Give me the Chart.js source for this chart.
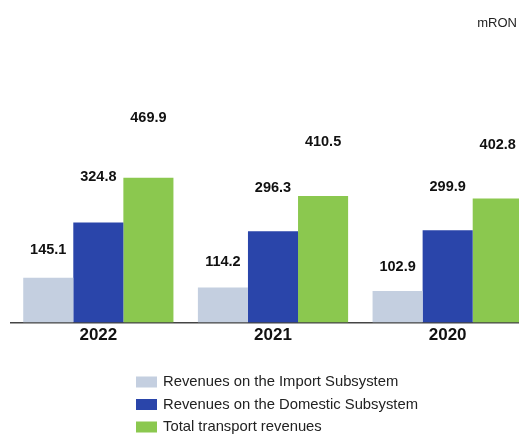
<!DOCTYPE html>
<html>
<head>
<meta charset="utf-8">
<script src="https://cdn.jsdelivr.net/npm/chart.js@4/dist/chart.umd.min.js"></script>
<style>
  html, body { margin: 0; padding: 0; background: #fff; overflow: hidden; }
  #wrap { width: 546px; height: 434px; }
</style>
</head>
<body>
<div id="wrap"><canvas id="c" width="546" height="434"></canvas></div>
<script>
const years = ['2022', '2021', '2020'];
const importRevenues = [145.1, 114.2, 102.9];
const domesticRevenues = [324.8, 296.3, 299.9];
const totalRevenues = [469.9, 410.5, 402.8];
const seriesNames = [
  'Revenues on the Import Subsystem',
  'Revenues on the Domestic Subsystem',
  'Total transport revenues'
];
const unitLabel = 'mRON';

const colors = ['#c4cfe0', '#2a45aa', '#8bc84f'];
const FONT = '"Liberation Sans", Arial, sans-serif';

// Value labels float above each bar, rising further for taller bars
const valueLabels = {
  id: 'valueLabels',
  afterDatasetsDraw(chart) {
    const ctx = chart.ctx;
    ctx.save();
    ctx.font = 'bold 14.5px ' + FONT;
    ctx.fillStyle = '#111';
    ctx.textAlign = 'center';
    ctx.textBaseline = 'middle';
    chart.data.datasets.forEach((ds, i) => {
      chart.getDatasetMeta(i).data.forEach((bar, j) => {
        const h = bar.base - bar.y;
        const y = bar.y - (14 + 0.316 * h);
        ctx.fillText(ds.data[j].toFixed(1), bar.x, y);
      });
    });
    ctx.restore();
  }
};

// Unit caption and vertical legend
const extras = {
  id: 'extras',
  afterDraw(chart) {
    const ctx = chart.ctx;
    ctx.save();
    ctx.font = '13px ' + FONT;
    ctx.fillStyle = '#222';
    ctx.textAlign = 'right';
    ctx.textBaseline = 'middle';
    ctx.fillText(unitLabel, 517, 23);

    ctx.textAlign = 'left';
    ctx.font = '14.8px ' + FONT;
    chart.data.datasets.forEach((ds, i) => {
      const cy = 382 + i * 22.5;
      ctx.fillStyle = ds.backgroundColor;
      ctx.fillRect(136, cy - 5.5, 21, 11);
      ctx.fillStyle = '#222';
      ctx.fillText(ds.label, 163, cy);
    });
    ctx.restore();
  }
};

new Chart(document.getElementById('c'), {
  type: 'bar',
  data: {
    labels: years,
    datasets: [
      { label: seriesNames[0], data: importRevenues, backgroundColor: colors[0] },
      { label: seriesNames[1], data: domesticRevenues, backgroundColor: colors[1] },
      { label: seriesNames[2], data: totalRevenues, backgroundColor: colors[2] }
    ]
  },
  options: {
    responsive: false,
    animation: false,
    events: [],
    layout: { padding: { left: 11, right: 11, top: 39, bottom: 85 } },
    datasets: { bar: { categoryPercentage: 0.86, barPercentage: 1.0 } },
    plugins: { legend: { display: false }, tooltip: { enabled: false } },
    scales: {
      x: {
        grid: { display: false, drawTicks: false },
        border: { display: true, color: '#444', width: 1.5 },
        ticks: { color: '#111', font: { family: FONT, size: 17, weight: 'bold' }, padding: 3 }
      },
      y: {
        display: false,
        min: 0,
        max: 920
      }
    }
  },
  plugins: [valueLabels, extras]
});
</script>
</body>
</html>
